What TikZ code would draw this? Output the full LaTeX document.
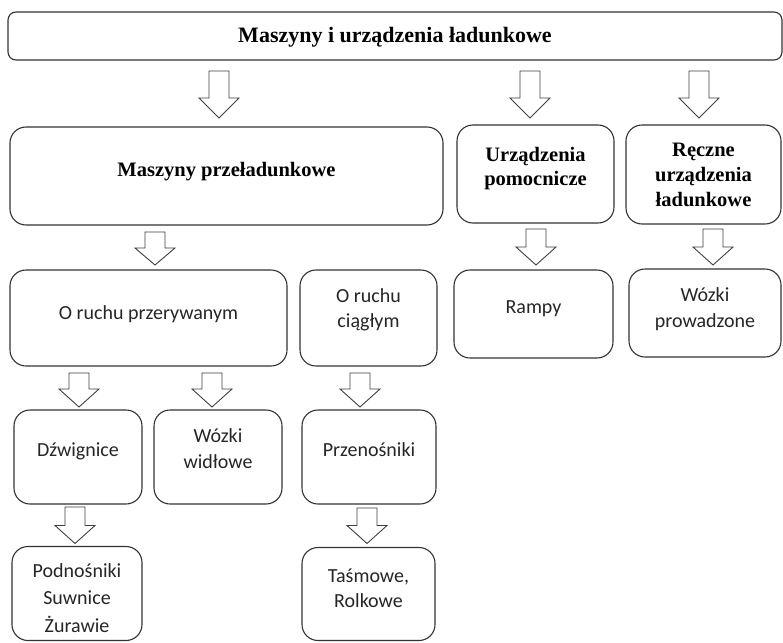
\documentclass[tikz,border=0pt]{standalone}
\usepackage{fontspec}
\setmainfont{Liberation Serif}
\newfontfamily\calfont{Carlito}
\usetikzlibrary{calc}
\tikzset{
  box/.style={draw=black!80, line width=1.1pt, rounded corners=16pt, inner sep=0pt, outer sep=0pt, fill=white},
  topbox/.style={box, rounded corners=8pt},
  blockarr/.style={draw=black!75, line width=0.9pt, fill=white, line join=miter},
  headtxt/.style={font=\bfseries\fontsize{20.5}{24.5}\selectfont, align=center, anchor=base, text=black, inner sep=0pt},
  bodytxt/.style={font=\calfont\fontsize{20}{26}\selectfont, align=center, anchor=base, text=black!85, inner sep=0pt}
}
\newcommand{\myblkarrow}[6]{%
  \draw[blockarr] let \p1=(#1.south), \p2=(#2.north) in
   ({#3pt-10pt},{\y1-#4pt}) -- ({#3pt+10pt},{\y1-#4pt}) -- ({#3pt+10pt},{\y2+#5pt+#6pt})
   -- ({#3pt+20pt},{\y2+#5pt+#6pt}) -- ({#3pt},{\y2+#5pt}) -- ({#3pt-20pt},{\y2+#5pt+#6pt})
   -- ({#3pt-10pt},{\y2+#5pt+#6pt}) -- cycle;}
\begin{document}
\begin{tikzpicture}[x=1pt,y=-1pt]
\useasboundingbox[fill=white] (0,0) rectangle (783,642);
% boxes
\node[topbox, minimum width=774pt, minimum height=48pt] (top) at (395,36) {};
\node[box, minimum width=433pt, minimum height=98pt] (mp) at (226.5,176) {};
\node[box, minimum width=157pt, minimum height=98pt] (up) at (535.5,174) {};
\node[box, minimum width=155pt, minimum height=99pt] (ru) at (703.5,174.5) {};
\node[box, minimum width=277pt, minimum height=96pt] (orp) at (148.5,318) {};
\node[box, minimum width=137pt, minimum height=96pt] (orc) at (368.5,318) {};
\node[box, minimum width=159pt, minimum height=88pt] (rampy) at (533.5,314) {};
\node[box, minimum width=152pt, minimum height=88pt] (wp) at (705,313) {};
\node[box, minimum width=128pt, minimum height=94pt] (dzw) at (78,457) {};
\node[box, minimum width=128pt, minimum height=94pt] (ww) at (218,457) {};
\node[box, minimum width=134pt, minimum height=94pt] (prz) at (369,457) {};
\node[box, minimum width=130pt, minimum height=94pt] (pod) at (77,593.5) {};
\node[box, minimum width=133pt, minimum height=93pt] (tas) at (368.5,594) {};
% texts (base anchor = baseline of the last line)
\node[headtxt, font=\bfseries\fontsize{22}{26}\selectfont] (t-top) at (395,43) {Maszyny i urządzenia ładunkowe};
\node[headtxt] (t-mp) at (226.5,176) {Maszyny przeładunkowe};
\node[headtxt, font=\bfseries\fontsize{20.5}{24}\selectfont] (t-up) at (535.5,185) {Urządzenia\\pomocnicze};
\node[headtxt, font=\bfseries\fontsize{20.5}{25}\selectfont] (t-ru) at (703.5,206) {Ręczne\\urządzenia\\ładunkowe};
\node[bodytxt] (t-orp) at (148.5,319) {O ruchu przerywanym};
\node[bodytxt, font=\calfont\fontsize{20}{25}\selectfont] (t-orc) at (368.5,327) {O ruchu\\ciągłym};
\node[bodytxt] (t-rampy) at (533.5,313) {Rampy};
\node[bodytxt] (t-wp) at (705,327) {Wózki\\prowadzone};
\node[bodytxt] (t-dzw) at (78,456) {Dźwignice};
\node[bodytxt] (t-ww) at (218,468) {Wózki\\widłowe};
\node[bodytxt] (t-prz) at (369,456) {Przenośniki};
\node[bodytxt, font=\calfont\fontsize{20}{27.5}\selectfont] (t-pod) at (77,632) {Podnośniki\\Suwnice\\Żurawie};
\node[bodytxt, font=\calfont\fontsize{20}{25}\selectfont] (t-tas) at (368.5,607) {Taśmowe,\\Rolkowe};
% block arrows
\myblkarrow{top}{mp}{219}{11}{9}{20}
\myblkarrow{top}{up}{530}{11}{7}{20}
\myblkarrow{top}{ru}{699}{11}{7}{20}
\myblkarrow{mp}{orp}{155}{7}{5}{17}
\myblkarrow{up}{rampy}{536}{6}{5}{18}
\myblkarrow{ru}{wp}{713}{5}{4}{18}
\myblkarrow{orp}{dzw}{79}{7}{3}{18}
\myblkarrow{orp}{ww}{212}{7}{3}{18}
\myblkarrow{orc}{prz}{360}{7}{3}{18}
\myblkarrow{dzw}{pod}{75}{3}{3}{18}
\myblkarrow{prz}{tas}{367}{4}{4}{18}
\end{tikzpicture}
\end{document}
